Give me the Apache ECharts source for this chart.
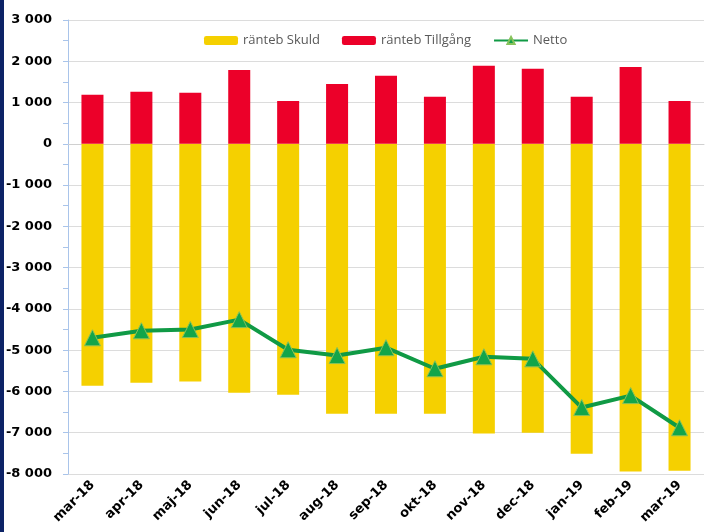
<!DOCTYPE html>
<html>
<head>
<meta charset="utf-8">
<style>
  * { margin: 0; padding: 0; }
  body { background: #fff; }
  #main { width: 704px; height: 532px; border-left: 4px solid #0d2366; }
</style>
</head>
<body>
<div id="main"></div>
<script src="https://cdn.jsdelivr.net/npm/echarts@6/dist/echarts.min.js"></script>
<script>
// månader
var months = ['mar-18', 'apr-18', 'maj-18', 'jun-18', 'jul-18', 'aug-18', 'sep-18',
  'okt-18', 'nov-18', 'dec-18', 'jan-19', 'feb-19', 'mar-19'];
var skuld = [-5860, -5790, -5760, -6030, -6080, -6540, -6540, -6540, -7020, -7000, -7510, -7940, -7920];
var tillgang = [1190, 1260, 1240, 1790, 1040, 1450, 1650, 1140, 1890, 1820, 1140, 1860, 1040];
var netto = [-4700, -4530, -4500, -4260, -4990, -5130, -4940, -5450, -5160, -5210, -6390, -6100, -6880];

var chart = echarts.init(document.getElementById('main'));

function fmt(v) {
  var s = String(Math.abs(v));
  s = s.replace(/\B(?=(\d{3})+(?!\d))/g, ' ');
  return (v < 0 ? '-' : '') + s;
}

var option = {
  animation: false,
  textStyle: { fontFamily: 'DejaVu Sans' },
  legend: {
    top: 29,
    left: 195,
    itemWidth: 34,
    itemHeight: 9,
    itemGap: 22,
    textStyle: { color: '#595959', fontSize: 13, fontFamily: 'Open Sans' },
    data: [
      { name: 'ränteb Skuld' },
      { name: 'ränteb Tillgång' },
      { name: 'Netto', itemStyle: { color: '#13a04a' } }
    ]
  },
  grid: { left: 64, right: 4, top: 20, bottom: 58, outerBoundsMode: 'none' },
  xAxis: [
    {
      type: 'category',
      data: months,
      position: 'bottom',
      axisLine: { show: false, onZero: false },
      axisTick: { show: false },
      axisLabel: {
        rotate: 45,
        interval: 0,
        margin: 9,
        color: '#000',
        fontWeight: 'bold',
        fontSize: 13
      }
    },
    {
      type: 'category',
      data: months,
      position: 'top',
      axisLine: { onZero: true, lineStyle: { color: '#d0d0d0' } },
      axisTick: { inside: true, length: 5, lineStyle: { color: '#c8c8c8' } },
      axisLabel: { show: false }
    }
  ],
  yAxis: {
    type: 'value',
    min: -8000,
    max: 3000,
    interval: 1000,
    axisLine: { show: true, lineStyle: { color: '#a9c4ea' } },
    axisTick: { show: true, length: 5, lineStyle: { color: '#a9c4ea' } },
    minorTick: { show: true, splitNumber: 2, length: 5, lineStyle: { color: '#a9c4ea' } },
    splitLine: { lineStyle: { color: '#dcdcdc' } },
    axisLabel: {
      formatter: fmt,
      color: '#000',
      fontWeight: 'bold',
      fontSize: 13,
      margin: 16
    }
  },
  series: [
    {
      name: 'ränteb Skuld',
      type: 'bar',
      stack: 'tot',
      barWidth: '45%',
      itemStyle: { color: '#f5d000' },
      data: skuld
    },
    {
      name: 'ränteb Tillgång',
      type: 'bar',
      stack: 'tot',
      itemStyle: { color: '#ec0029' },
      data: tillgang
    },
    {
      name: 'Netto',
      type: 'line',
      symbol: 'triangle',
      symbolSize: 16,
      lineStyle: { color: '#109a45', width: 4 },
      itemStyle: { color: '#13a54a', borderColor: '#86c25a', borderWidth: 1 },
      data: netto,
      z: 5
    }
  ]
};

chart.setOption(option);
</script>
</body>
</html>
